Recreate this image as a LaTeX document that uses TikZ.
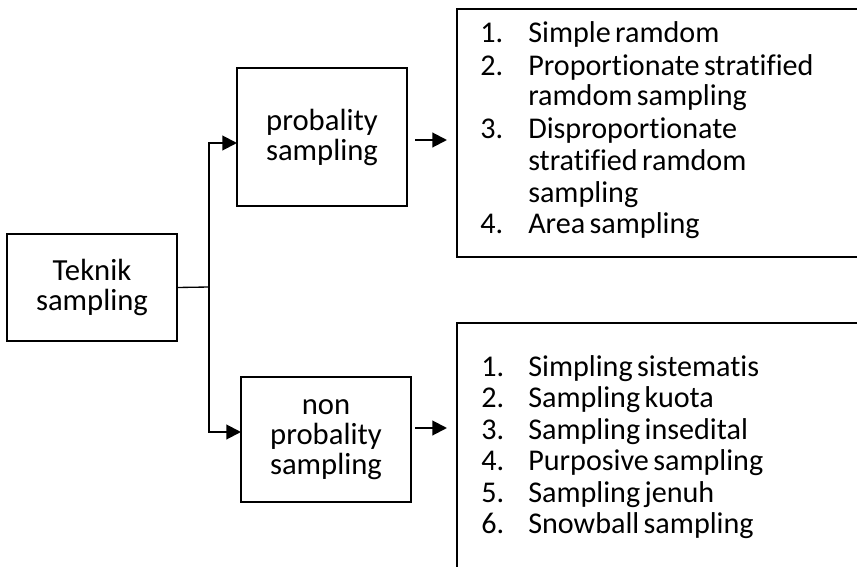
\documentclass[tikz,border=0pt]{standalone}
\usepackage{fontspec}
\setmainfont{Carlito}[Ligatures=NoCommon,WordSpace=0.65]
\usetikzlibrary{arrows.meta}
\begin{document}
\begin{tikzpicture}[x=0.75pt,y=-0.75pt,
  smallbox/.style={draw,line width=1pt,inner sep=0pt,align=center,
    minimum width=127.5pt,font=\fontsize{23}{22.5}\selectfont},
  listbox/.style={draw,line width=1.6pt},
  conn/.style={line width=1pt},
  arr/.style={line width=1.5pt,-{Triangle[length=11pt,width=11pt]}},
  item/.style={anchor=base west,inner sep=0pt,font=\fontsize{22.6}{23.75}\selectfont}]
\useasboundingbox (0,0) rectangle (857,567);
\clip (0,0) rectangle (857,567);
% boxes
\node[smallbox,minimum height=80.25pt] (teknik) at (92,287.5) {Teknik\\sampling};
\node[smallbox,minimum height=103.5pt] (prob) at (322,137) {probality\\sampling};
\node[smallbox,minimum height=93.75pt] (nonprob) at (326,439.5) {non\\probality\\sampling};
\draw[listbox] (457,9) rectangle (880,257);
\draw[listbox] (457,323) rectangle (880,590);
% connectors
\coordinate (j) at (209,287);
\coordinate (pin) at (237,143);
\coordinate (nin) at (241,432);
\draw[conn] (teknik.east) -- (j);
\draw[arr] (j) |- (pin);
\draw[arr] (j) |- (nin);
\coordinate (pa1) at (415,140);
\coordinate (pa2) at (447,140);
\coordinate (na1) at (415,428);
\coordinate (na2) at (447,428);
\draw[arr] (pa1) -- (pa2);
\draw[arr] (na1) -- (na2);
% top list
\foreach \n/\t/\y in {1./Simple ramdom/43, 2./Proportionate stratified/75, /ramdom sampling/106, 3./Disproportionate/138, /stratified ramdom/170, /sampling/202, 4./Area sampling/233}{
  \node[item] (tn) at (480,\y) {\n};
  \node[item] (tt) at (528,\y) {\t};
}
% bottom list
\foreach \n/\t/\y in {1./Simpling sistematis/376, 2./Sampling kuota/407.5, 3./Sampling insedital/439, 4./Purposive sampling/470.5, 5./Sampling jenuh/502, 6./Snowball sampling/533.5}{
  \node[item] (bn) at (481,\y) {\n};
  \node[item] (bt) at (528,\y) {\t};
}
\end{tikzpicture}
\end{document}
